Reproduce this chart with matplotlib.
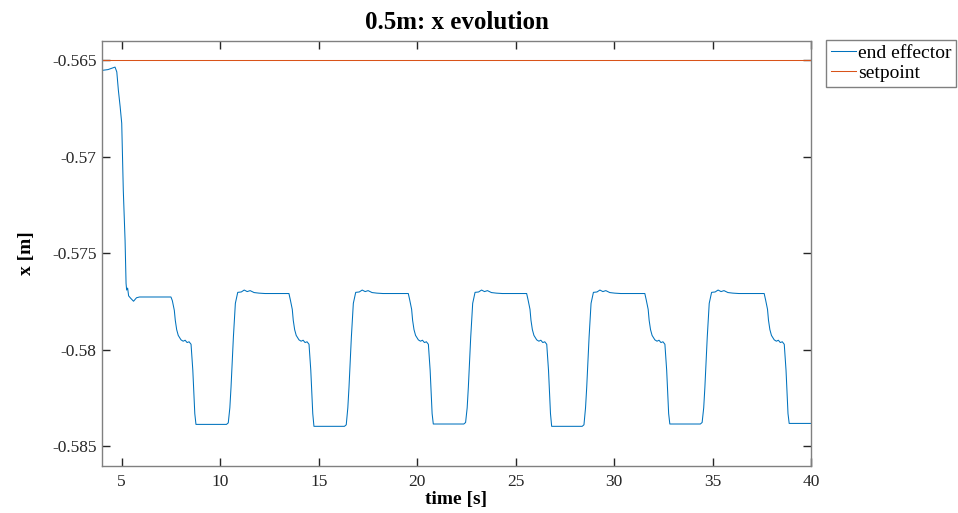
import matplotlib
matplotlib.use("Agg")
import matplotlib.pyplot as plt
import numpy as np

plt.rcParams['font.family'] = ['Liberation Serif', 'DejaVu Serif']
plt.rcParams['mathtext.fontset'] = 'stix'

# ---- data ----
title = "0.5m: x evolution"
xlabel = "time [s]"
ylabel = "x [m]"
series_names = ["end effector", "setpoint"]

setpoint_value = -0.565

time_s = [
    4.00, 4.30, 4.50, 4.66, 4.75, 4.83, 4.92, 5.00, 5.08, 5.17, 5.22, 5.25, 5.30, 5.35, 5.45, 5.60, 5.75, 5.90,
    # cycle 1
    7.50, 7.57, 7.67, 7.72, 7.79, 7.87, 8.01, 8.12, 8.22, 8.32, 8.42, 8.52, 8.61, 8.71, 8.77,
    10.32, 10.41, 10.49, 10.55, 10.67, 10.77, 10.89, 11.07, 11.22, 11.37, 11.52, 11.72, 11.97, 12.27,
    # cycle 2
    13.49, 13.56, 13.66, 13.71, 13.78, 13.86, 14.00, 14.11, 14.21, 14.31, 14.41, 14.51, 14.60, 14.70, 14.76,
    16.31, 16.40, 16.48, 16.54, 16.66, 16.76, 16.88, 17.06, 17.21, 17.36, 17.51, 17.71, 17.96, 18.26,
    # cycle 3
    19.55, 19.62, 19.72, 19.77, 19.84, 19.92, 20.06, 20.17, 20.27, 20.37, 20.47, 20.57, 20.66, 20.76, 20.82,
    22.37, 22.46, 22.54, 22.60, 22.72, 22.82, 22.94, 23.12, 23.27, 23.42, 23.57, 23.77, 24.02, 24.32,
    # cycle 4
    25.56, 25.63, 25.73, 25.78, 25.85, 25.93, 26.07, 26.18, 26.28, 26.38, 26.48, 26.58, 26.67, 26.77, 26.83,
    28.38, 28.47, 28.55, 28.61, 28.73, 28.83, 28.95, 29.13, 29.28, 29.43, 29.58, 29.78, 30.03, 30.33,
    # cycle 5
    31.56, 31.63, 31.73, 31.78, 31.85, 31.93, 32.07, 32.18, 32.28, 32.38, 32.48, 32.58, 32.67, 32.77, 32.83,
    34.38, 34.47, 34.55, 34.61, 34.73, 34.83, 34.95, 35.13, 35.28, 35.43, 35.58, 35.78, 36.03, 36.33,
    # cycle 6
    37.62, 37.69, 37.79, 37.84, 37.91, 37.99, 38.13, 38.24, 38.34, 38.44, 38.54, 38.64, 38.73, 38.83, 38.89,
    40.00,
]

x_end_effector = [
    -0.56552, -0.56548, -0.56541, -0.56535, -0.56560, -0.56655, -0.56740, -0.56826, -0.57174, -0.57433, -0.57655,
    -0.57690, -0.57680, -0.57720, -0.57732, -0.57748, -0.57730, -0.57726,
    # cycle 1
    -0.57726, -0.57745, -0.57795, -0.57847, -0.57895, -0.57925, -0.57948, -0.57955, -0.57950, -0.57962, -0.57958,
    -0.57971, -0.58106, -0.58330, -0.58386,
    -0.58386, -0.58378, -0.58300, -0.58193, -0.57934, -0.57759, -0.57702, -0.57700, -0.57690, -0.57698, -0.57693,
    -0.57703, -0.57706, -0.57708,
    # cycle 2
    -0.57708, -0.57740, -0.57790, -0.57847, -0.57895, -0.57925, -0.57948, -0.57955, -0.57950, -0.57962, -0.57958,
    -0.57971, -0.58106, -0.58330, -0.58396,
    -0.58396, -0.58388, -0.58300, -0.58193, -0.57934, -0.57759, -0.57702, -0.57700, -0.57690, -0.57698, -0.57693,
    -0.57703, -0.57706, -0.57708,
    # cycle 3
    -0.57708, -0.57740, -0.57790, -0.57847, -0.57895, -0.57925, -0.57948, -0.57955, -0.57950, -0.57962, -0.57958,
    -0.57971, -0.58106, -0.58330, -0.58384,
    -0.58384, -0.58376, -0.58300, -0.58193, -0.57934, -0.57759, -0.57702, -0.57700, -0.57690, -0.57698, -0.57693,
    -0.57703, -0.57706, -0.57708,
    # cycle 4
    -0.57708, -0.57740, -0.57790, -0.57847, -0.57895, -0.57925, -0.57948, -0.57955, -0.57950, -0.57962, -0.57958,
    -0.57971, -0.58106, -0.58330, -0.58396,
    -0.58396, -0.58388, -0.58300, -0.58193, -0.57934, -0.57759, -0.57702, -0.57700, -0.57690, -0.57698, -0.57693,
    -0.57703, -0.57706, -0.57708,
    # cycle 5
    -0.57708, -0.57740, -0.57790, -0.57847, -0.57895, -0.57925, -0.57948, -0.57955, -0.57950, -0.57962, -0.57958,
    -0.57971, -0.58106, -0.58330, -0.58384,
    -0.58384, -0.58376, -0.58300, -0.58193, -0.57934, -0.57759, -0.57702, -0.57700, -0.57690, -0.57698, -0.57693,
    -0.57703, -0.57706, -0.57708,
    # cycle 6
    -0.57708, -0.57740, -0.57790, -0.57847, -0.57895, -0.57925, -0.57948, -0.57955, -0.57950, -0.57962, -0.57958,
    -0.57971, -0.58106, -0.58330, -0.58381,
    -0.58381,
]

x_ticks = [5, 10, 15, 20, 25, 30, 35, 40]
y_ticks = [-0.585, -0.58, -0.575, -0.57, -0.565]
y_tick_labels = ["-0.585", "-0.58", "-0.575", "-0.57", "-0.565"]
x_limits = (4, 40)
y_limits = (-0.586, -0.564)

# ---- figure ----
fig = plt.figure(figsize=(9.58, 5.13), dpi=100)
ax = fig.add_axes([0.1065, 0.0922, 0.7401, 0.8278])

blue = "#0072BD"
orange = "#D95319"
ax.plot(time_s, x_end_effector, color=blue, lw=0.75, label=series_names[0])
ax.plot(list(x_limits), [setpoint_value, setpoint_value], color=orange, lw=0.75, label=series_names[1])

ax.set_xlim(*x_limits)
ax.set_ylim(*y_limits)
ax.set_xticks(x_ticks)
ax.set_xticklabels([str(t) for t in x_ticks])
ax.set_yticks(y_ticks)
ax.set_yticklabels(y_tick_labels)

spine_col = "#808080"
for s in ax.spines.values():
    s.set_color(spine_col)
    s.set_linewidth(1.0)
ax.tick_params(direction="in", length=6, width=1.0, color="#262626",
               top=True, right=True, labelsize=12.5, labelcolor="#262626")
ax.tick_params(axis="y", pad=4)
ax.tick_params(axis="x", pad=6)

ax.set_title(title, fontsize=18, fontweight="bold", pad=9)
ax.set_xlabel(xlabel, fontsize=14, fontweight="bold", labelpad=1)
ax.set_ylabel(ylabel, fontsize=14, fontweight="bold", labelpad=12)

leg = ax.legend(loc="upper left", bbox_to_anchor=(1.021, 1.003), fontsize=14,
                frameon=True, fancybox=False, edgecolor=spine_col, framealpha=1,
                handlelength=1.3, handletextpad=0.1, borderpad=0.25,
                labelspacing=0.1, borderaxespad=0)
leg.get_frame().set_linewidth(1.0)

fig.savefig("out.png", dpi=100)
